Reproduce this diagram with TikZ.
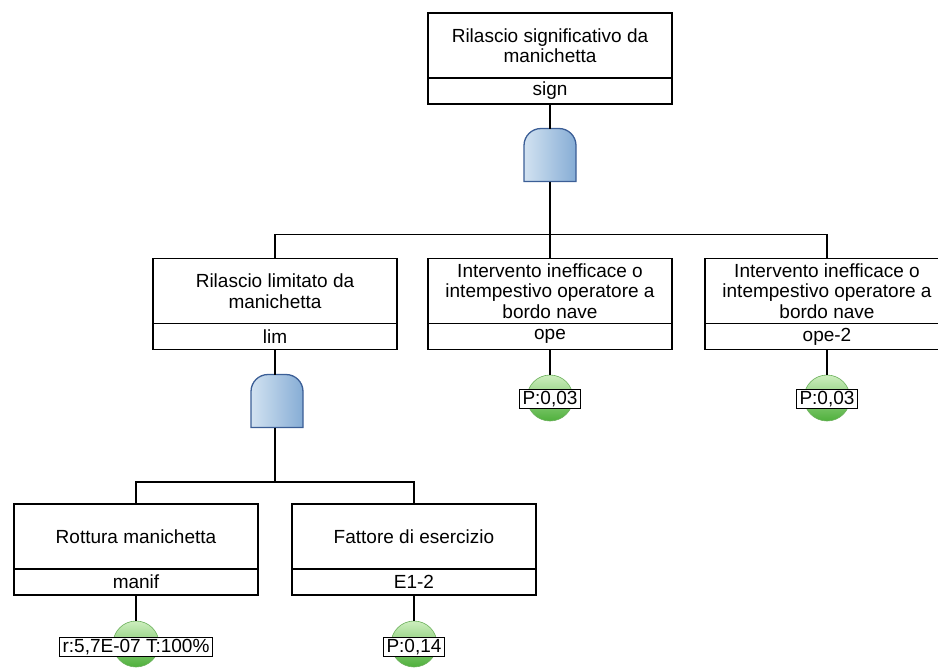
\documentclass[tikz,border=0pt]{standalone}
\usepackage{fontspec}
\setmainfont{Liberation Sans}
\usetikzlibrary{positioning}
\definecolor{gatelight}{HTML}{D2E2F1}
\definecolor{gatedark}{HTML}{86ADD5}
\definecolor{gateedge}{HTML}{3B5E96}
\definecolor{balltop}{HTML}{CDEEBE}
\definecolor{ballbot}{HTML}{4FB03C}
\definecolor{balledge}{HTML}{6AAF5A}
\newcommand{\andgate}[2]{%
  \node[gatebox] (#1) at (#2) {};
  \shade[gatefill] (#1.south west) [rounded corners=17pt] -- (#1.north west)
    -- (#1.north east) [sharp corners] -- (#1.south east) -- cycle;}
\begin{document}
\begin{tikzpicture}[x=1pt,y=-1pt,
  font=\fontsize{19}{20.5}\selectfont,
  evtop/.style={draw,line width=1.6pt,outer sep=0pt,inner xsep=0pt,inner ysep=-6pt,
    minimum width=244pt,minimum height=65pt,align=center},
  evid/.style={draw,line width=1.6pt,outer sep=0pt,inner sep=0pt,
    minimum width=244pt,minimum height=26pt},
  gatebox/.style={minimum width=52pt,minimum height=53pt,inner sep=0pt,outer sep=0pt},
  gatefill/.style={draw=gateedge,line width=1.3pt,left color=gatelight,right color=gatedark},
  ball/.style={circle,minimum size=46pt,inner sep=0pt,draw=balledge,line width=.6pt,
    top color=balltop,bottom color=ballbot},
  prob/.style={draw,fill=white,line width=1.2pt,inner xsep=3pt,inner ysep=2pt},
  link/.style={line width=1.6pt}]
  \useasboundingbox (0,0) rectangle (938,670);
  % top event
  \node[evtop] (sign) at (550,45.5) {Rilascio significativo da\\manichetta};
  \node[evid,below=0pt of sign] (signid) {sign};
  \andgate{g1}{550,155}
  % second level
  \node[evtop] (lim) at (275,291) {Rilascio limitato da\\manichetta};
  \node[evid,below=0pt of lim] (limid) {lim};
  \node[evtop] (ope) at (550,291) {Intervento inefficace o\\intempestivo operatore a\\bordo nave};
  \node[evid,below=0pt of ope] (opeid) {ope};
  \node[evtop] (ope2) at (827,291) {Intervento inefficace o\\intempestivo operatore a\\bordo nave};
  \node[evid,below=0pt of ope2] (ope2id) {ope-2};
  \andgate{g2}{277,401}
  % third level
  \node[evtop] (manif) at (136,536.5) {Rottura manichetta};
  \node[evid,below=0pt of manif] (manifid) {manif};
  \node[evtop] (esr) at (414,536.5) {Fattore di esercizio};
  \node[evid,below=0pt of esr] (esrid) {E1-2};
  % basic events
  \node[ball] (b1) at (550,398) {};
  \node[ball] (b2) at (827,398) {};
  \node[ball] (b3) at (136,644) {};
  \node[ball] (b4) at (414,644) {};
  \node[prob] at ([yshift=-1pt]b1) {P:0,03};
  \node[prob] at ([yshift=-1pt]b2) {P:0,03};
  \node[prob] at ([yshift=-3pt]b3) {r:5,7E-07 T:100\%};
  \node[prob] at ([yshift=-3pt]b4) {P:0,14};
  % connectors
  \draw[link] (signid.south) -- (g1.north);
  \draw[link] (g1.south) -- (ope.north);
  \draw[link] (lim.north) -- ++(0,-24) -| (ope2.north);
  \draw[link] (limid.south) -- (limid.south |- g2.north);
  \draw[link] (limid.south |- g2.south) -- (limid.south |- 0,481);
  \draw[link] (manif.north) -- ++(0,-22) -| (esr.north);
  \draw[link] (opeid.south) -- (b1);
  \draw[link] (ope2id.south) -- (b2);
  \draw[link] (manifid.south) -- (b3);
  \draw[link] (esrid.south) -- (b4);
\end{tikzpicture}
\end{document}
